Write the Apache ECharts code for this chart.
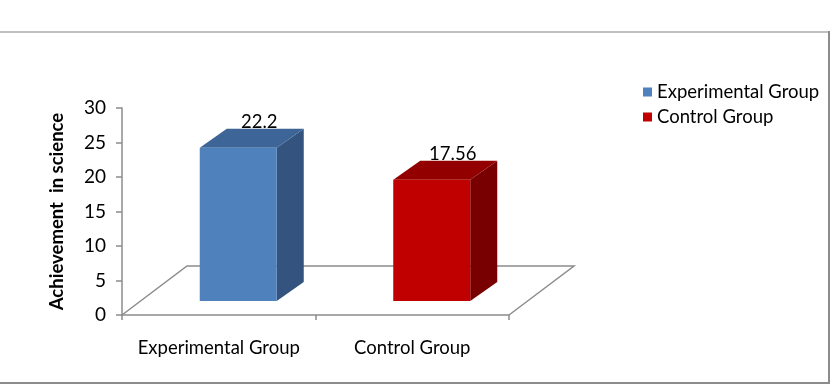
<!DOCTYPE html>
<html>
<head>
<meta charset="utf-8">
<script src="https://cdn.jsdelivr.net/npm/echarts@6/dist/echarts.min.js"></script>
<style>
  html, body { margin: 0; padding: 0; background: #fff; }
  #chart { width: 836px; height: 392px; }
</style>
</head>
<body>
<div id="chart"></div>
<script>
  // data
  const categories = ['Experimental Group', 'Control Group']
  const scores = [22.2, 17.56]
  const yTicks = [0, 5, 10, 15, 20, 25, 30]

  const FONT = 'Lato'
  const faces = [
    { front: '#4F81BD', top: '#3D6598', side: '#34547F' },
    { front: '#C00000', top: '#920000', side: '#780000' }
  ]
  // pseudo 3d offsets (px)
  const barDepth = [27, -19]
  const floorDepth = [65, -49]
  const barShift = [-19, -14]
  const barWidth = 77

  const myChart = echarts.init(document.getElementById('chart'))

  function barRenderer (k) {
    return function (params, api) {
      const base = api.coord([api.value(0), 0])
      const top = api.coord([api.value(0), api.value(1)])
      const l = base[0] + barShift[0]
      const r = l + barWidth
      const by = base[1] + barShift[1]
      const ty = top[1] + barShift[1]
      const dx = barDepth[0]
      const dy = barDepth[1]
      return {
        type: 'group',
        children: [
          {
            type: 'polygon',
            shape: { points: [[r, ty], [r + dx, ty + dy], [r + dx, by + dy], [r, by]] },
            style: { fill: faces[k].side }
          },
          {
            type: 'polygon',
            shape: { points: [[l, ty], [l + dx, ty + dy], [r + dx, ty + dy], [r, ty]] },
            style: { fill: faces[k].top }
          },
          {
            type: 'rect',
            shape: { x: l, y: ty, width: barWidth, height: by - ty },
            style: { fill: faces[k].front }
          },
          {
            type: 'text',
            x: l + barWidth / 2 + 21,
            y: ty + dy - 7,
            style: {
              text: String(api.value(1)),
              font: '18.5px ' + FONT,
              fill: '#000',
              align: 'center',
              verticalAlign: 'middle'
            }
          }
        ]
      }
    }
  }

  const series = categories.map(function (name, i) {
    return {
      name: name,
      type: 'custom',
      itemStyle: { color: faces[i].front },
      data: [[i, scores[i]]],
      encode: { x: 0, y: 1 },
      renderItem: barRenderer(i),
      z: 3
    }
  })

  // floor outline behind the bars
  series.unshift({
    name: 'floor',
    type: 'custom',
    data: [[0, 0]],
    silent: true,
    z: 1,
    renderItem: function (params, api) {
      const cs = params.coordSys
      const x0 = cs.x
      const x1 = cs.x + cs.width
      const y0 = cs.y + cs.height
      const dx = floorDepth[0]
      const dy = floorDepth[1]
      return {
        type: 'polyline',
        shape: { points: [[x0, y0], [x0 + dx, y0 + dy], [x1 + dx, y0 + dy], [x1, y0]] },
        style: { fill: null, stroke: '#8C8C8C', lineWidth: 1.5 }
      }
    }
  })

  myChart.setOption({
    animation: false,
    legend: {
      data: categories,
      orient: 'vertical',
      left: 638,
      top: 77,
      icon: 'rect',
      itemWidth: 9,
      itemHeight: 9,
      itemGap: 5,
      textStyle: { fontFamily: FONT, fontSize: 18.5, color: '#000', lineHeight: 20 }
    },
    grid: {
      left: 122,
      right: 327,
      top: 108,
      bottom: 77
    },
    xAxis: {
      type: 'category',
      data: categories,
      axisLine: { lineStyle: { color: '#8C8C8C', width: 1.5 } },
      axisTick: { show: true, length: 5, lineStyle: { color: '#8C8C8C', width: 1.5 } },
      axisLabel: { interval: 0, margin: 24, fontFamily: FONT, fontSize: 18.5, color: '#000' }
    },
    yAxis: {
      type: 'value',
      min: yTicks[0],
      max: yTicks[yTicks.length - 1],
      interval: 5,
      name: 'Achievement  in science',
      nameLocation: 'middle',
      nameRotate: 90,
      nameGap: 55,
      nameTextStyle: { fontFamily: FONT, fontSize: 18.5, fontWeight: 'bold', color: '#000' },
      axisLine: { show: true, lineStyle: { color: '#8C8C8C', width: 1.5 } },
      axisTick: { show: true, length: 6, lineStyle: { color: '#8C8C8C', width: 1.5 } },
      splitLine: { show: false },
      axisLabel: { margin: 16, fontFamily: FONT, fontSize: 19, color: '#000' }
    },
    graphic: [
      { type: 'rect', shape: { x: 0, y: 31, width: 830, height: 2 }, style: { fill: '#C0C0C0' } },
      { type: 'rect', shape: { x: 828, y: 31, width: 2, height: 353 }, style: { fill: '#8C8C8C' } },
      { type: 'rect', shape: { x: 0, y: 382, width: 830, height: 2 }, style: { fill: '#8C8C8C' } }
    ],
    series: series
  })
</script>
</body>
</html>
